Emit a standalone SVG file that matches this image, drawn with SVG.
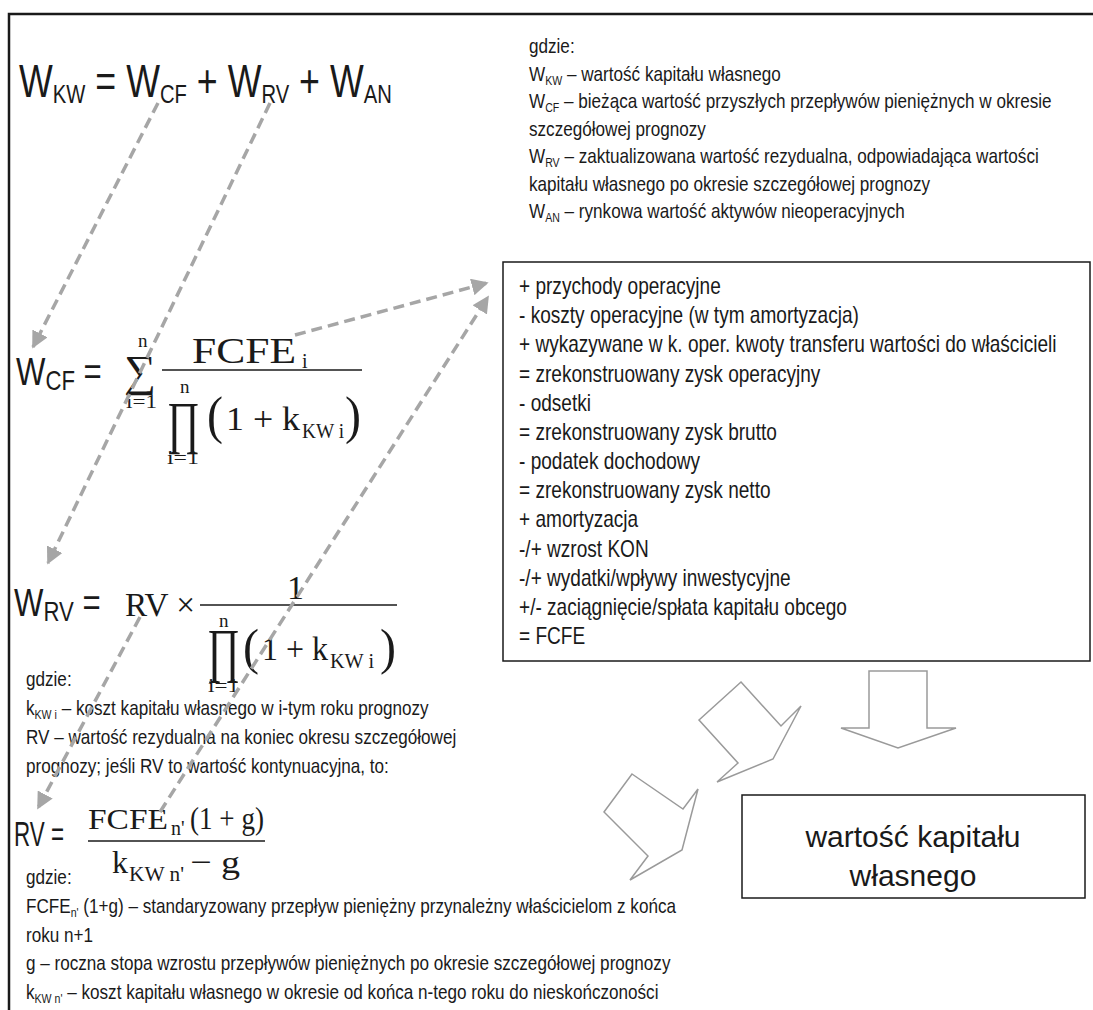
<svg xmlns="http://www.w3.org/2000/svg" width="1093" height="1010" viewBox="0 0 1093 1010">
<style>
.n{font-family:"Liberation Sans",Arial,sans-serif;fill:#1a1a1a}
.m{font-family:"Liberation Serif","DejaVu Serif",serif;fill:#1a1a1a}
.conn{fill:none;stroke:#a6a6a6;stroke-width:3.5;stroke-dasharray:11 6}
.blk{fill:#fff;stroke:#9a9a9a;stroke-width:1.5;stroke-linejoin:miter}
.bar{stroke:#1a1a1a;stroke-width:1.5}
</style>
<defs>
<marker id="ah" viewBox="0 0 10 10" refX="9" refY="5" markerWidth="17" markerHeight="17" markerUnits="userSpaceOnUse" orient="auto"><path d="M0,0 L10,5 L0,10 z" fill="#a6a6a6"/></marker>
</defs>
<rect width="1093" height="1010" fill="#fff"/>
<path d="M1093,14 H9 V1010" fill="none" stroke="#1a1a1a" stroke-width="2.5"/>

<g id="heading">
<g transform="translate(19 0) scale(0.778 1)"><text class="n" x="0" y="97" font-size="46">W<tspan font-size="26" dy="6">KW</tspan><tspan dy="-6"> = W</tspan><tspan font-size="26" dy="6">CF</tspan><tspan dy="-6"> + W</tspan><tspan font-size="26" dy="6">RV</tspan><tspan dy="-6"> + W</tspan><tspan font-size="26" dy="6">AN</tspan></text></g>
</g>

<g id="notes-top">
<g transform="translate(529 0) scale(0.815 1)" font-size="21">
<text x="0" y="53" class="n">gdzie:</text>
<text x="0" y="81" class="n">W<tspan font-size="13" dy="4">KW</tspan><tspan dy="-4"> – wartość kapitału własnego</tspan></text>
<text x="0" y="108" class="n">W<tspan font-size="13" dy="4">CF</tspan><tspan dy="-4"> – bieżąca wartość przyszłych przepływów pieniężnych w okresie</tspan></text>
<text x="0" y="136" class="n">szczegółowej prognozy</text>
<text x="0" y="163" class="n">W<tspan font-size="13" dy="4">RV</tspan><tspan dy="-4"> – zaktualizowana wartość rezydualna, odpowiadająca wartości</tspan></text>
<text x="0" y="191" class="n">kapitału własnego po okresie szczegółowej prognozy</text>
<text x="0" y="218" class="n">W<tspan font-size="13" dy="4">AN</tspan><tspan dy="-4"> – rynkowa wartość aktywów nieoperacyjnych</tspan></text>
</g>
</g>

<g id="fcfe-box">
<rect x="503" y="262" width="587" height="399" fill="none" stroke="#1a1a1a" stroke-width="1.5"/>
<g transform="translate(519 0) scale(0.815 1)" font-size="23.4">
<text x="0" y="294" class="n">+ przychody operacyjne</text>
<text x="0" y="323" class="n">- koszty operacyjne (w tym amortyzacja)</text>
<text x="0" y="352" class="n">+ wykazywane w k. oper. kwoty transferu wartości do właścicieli</text>
<text x="0" y="382" class="n">= zrekonstruowany zysk operacyjny</text>
<text x="0" y="411" class="n">- odsetki</text>
<text x="0" y="440" class="n">= zrekonstruowany zysk brutto</text>
<text x="0" y="469" class="n">- podatek dochodowy</text>
<text x="0" y="498" class="n">= zrekonstruowany zysk netto</text>
<text x="0" y="527" class="n">+ amortyzacja</text>
<text x="0" y="557" class="n">-/+ wzrost KON</text>
<text x="0" y="586" class="n">-/+ wydatki/wpływy inwestycyjne</text>
<text x="0" y="615" class="n">+/- zaciągnięcie/spłata kapitału obcego</text>
<text x="0" y="644" class="n">= FCFE</text>
</g>
</g>

<g id="wcf-formula">
<g transform="translate(16 0) scale(0.82 1)"><text class="n" x="0" y="385" font-size="38">W<tspan font-size="27" dy="5">CF</tspan><tspan dy="-5"> =</tspan></text></g>
<text class="m" x="138" y="347" font-size="19">n</text>
<text class="m" x="124" y="386" font-size="44" textLength="32" lengthAdjust="spacingAndGlyphs">∑</text>
<text class="m" x="126" y="408" font-size="19" textLength="31" lengthAdjust="spacingAndGlyphs">i=1</text>
<text class="m" x="192" y="363" font-size="35" textLength="104" lengthAdjust="spacingAndGlyphs">FCFE</text>
<text class="m" x="302" y="368" font-size="20">i</text>
<line class="bar" x1="162" y1="370" x2="362" y2="370"/>
<text class="m" x="180" y="393" font-size="19">n</text>
<text class="m" x="167" y="442" font-size="58" textLength="33" lengthAdjust="spacingAndGlyphs">∏</text>
<text class="m" x="167" y="464" font-size="19" textLength="32" lengthAdjust="spacingAndGlyphs">i=1</text>
<text class="m" x="207" y="433" font-size="52" textLength="16" lengthAdjust="spacingAndGlyphs">(</text>
<text class="m" x="226" y="430" font-size="34" textLength="74" lengthAdjust="spacingAndGlyphs">1 + k</text>
<text class="m" x="302" y="438" font-size="22" textLength="42" lengthAdjust="spacingAndGlyphs">KW i</text>
<text class="m" x="345" y="433" font-size="52" textLength="16" lengthAdjust="spacingAndGlyphs">)</text>
</g>

<g id="wrv-formula">
<g transform="translate(14 0) scale(0.82 1)"><text class="n" x="0" y="616" font-size="38">W<tspan font-size="27" dy="5">RV</tspan><tspan dy="-5"> =</tspan></text></g>
<text class="m" x="125" y="616" font-size="34" textLength="70" lengthAdjust="spacingAndGlyphs">RV ×</text>
<text class="m" x="287" y="599" font-size="34">1</text>
<line class="bar" x1="200" y1="605" x2="397" y2="605"/>
<text class="m" x="219" y="627" font-size="19">n</text>
<text class="m" x="207" y="670" font-size="60" textLength="33" lengthAdjust="spacingAndGlyphs">∏</text>
<text class="m" x="208" y="692" font-size="19" textLength="31" lengthAdjust="spacingAndGlyphs">i=1</text>
<text class="m" x="243" y="664" font-size="50" textLength="16" lengthAdjust="spacingAndGlyphs">(</text>
<text class="m" x="262" y="660" font-size="34" textLength="66" lengthAdjust="spacingAndGlyphs">1 + k</text>
<text class="m" x="330" y="668" font-size="22" textLength="44" lengthAdjust="spacingAndGlyphs">KW i</text>
<text class="m" x="380" y="664" font-size="50" textLength="16" lengthAdjust="spacingAndGlyphs">)</text>
</g>

<g id="notes-mid">
<g transform="translate(26 0) scale(0.815 1)" font-size="21">
<text x="0" y="686" class="n">gdzie:</text>
<text x="0" y="715" class="n">k<tspan font-size="13" dy="4">KW i</tspan><tspan dy="-4"> – koszt kapitału własnego w i-tym roku prognozy</tspan></text>
<text x="0" y="744" class="n">RV – wartość rezydualna na koniec okresu szczegółowej</text>
<text x="0" y="773" class="n">prognozy; jeśli RV to wartość kontynuacyjna, to:</text>
</g>
</g>

<g id="rv-formula">
<text class="n" x="14" y="846" font-size="35" textLength="50" lengthAdjust="spacingAndGlyphs">RV =</text>
<text class="m" x="88" y="829" font-size="30" textLength="80" lengthAdjust="spacingAndGlyphs">FCFE</text>
<text class="m" x="171" y="835" font-size="20">n'</text>
<text class="m" x="190" y="829" font-size="32" textLength="74" lengthAdjust="spacingAndGlyphs">(1 + g)</text>
<line class="bar" x1="88" y1="841" x2="265" y2="841"/>
<text class="m" x="112" y="873" font-size="32">k</text>
<text class="m" x="129" y="881" font-size="20" textLength="55" lengthAdjust="spacingAndGlyphs">KW n'</text>
<text class="m" x="190" y="873" font-size="32" textLength="50" lengthAdjust="spacingAndGlyphs">− g</text>
</g>

<g id="notes-bottom">
<g transform="translate(26 0) scale(0.815 1)" font-size="21">
<text x="0" y="884" class="n">gdzie:</text>
<text x="0" y="913" class="n">FCFE<tspan font-size="13" dy="4">n'</tspan><tspan dy="-4"> (1+g) – standaryzowany przepływ pieniężny przynależny właścicielom z końca</tspan></text>
<text x="0" y="942" class="n">roku n+1</text>
<text x="0" y="970" class="n">g – roczna stopa wzrostu przepływów pieniężnych po okresie szczegółowej prognozy</text>
<text x="0" y="999" class="n">k<tspan font-size="13" dy="4">KW n'</tspan><tspan dy="-4"> – koszt kapitału własnego w okresie od końca n-tego roku do nieskończoności</tspan></text>
</g>
</g>

<g id="value-box">
<rect x="742" y="795" width="343" height="103" fill="none" stroke="#1a1a1a" stroke-width="1.5"/>
<text class="n" x="913" y="847" font-size="30" text-anchor="middle">wartość kapitału</text>
<text class="n" x="913" y="886" font-size="30" text-anchor="middle">własnego</text>
</g>

<g id="block-arrows">
<path class="blk" d="M869,671 H927 V728 H956 L898,748 L841,728 H869 Z"/>
<path class="blk" d="M741,682 L781,726 L801,706 L773,759 L717,782 L738,763 L699,720 Z"/>
<path class="blk" d="M632,774 L683,809 L698,789 L682,850 L630,880 L648,856 L604,812 Z"/>
</g>

<g id="connectors">
<path class="conn" d="M158,103 L33,347" marker-end="url(#ah)"/>
<path class="conn" d="M270,103 L48,563" marker-end="url(#ah)"/>
<path class="conn" d="M295,335 L487,283" marker-end="url(#ah)"/>
<path class="conn" d="M160,812 L488,297" marker-end="url(#ah)"/>
<path class="conn" d="M140,617 L38,808" marker-end="url(#ah)"/>
</g>
</svg>
